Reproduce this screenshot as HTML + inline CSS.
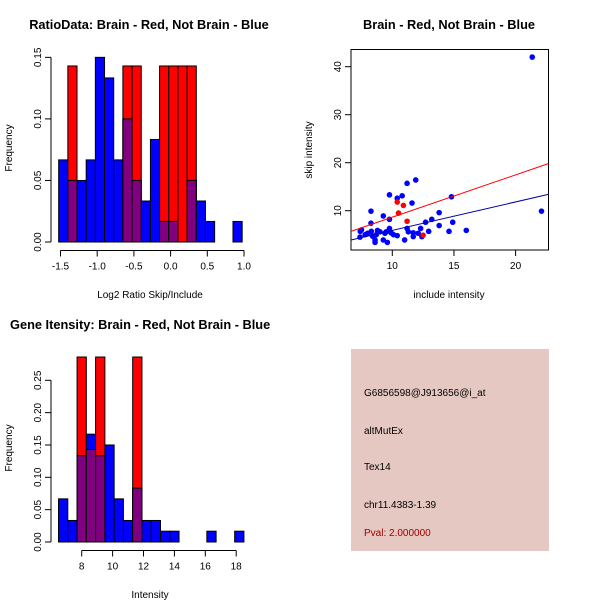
<!DOCTYPE html>
<html><head><meta charset="utf-8"><style>
body{margin:0;background:#fff}
svg{display:block;font-family:"Liberation Sans",sans-serif}
</style></head><body>
<svg id="c" width="600" height="600" xmlns="http://www.w3.org/2000/svg">
<rect width="600" height="600" fill="#fff"/>
<text x="149" y="29" font-size="12.8" font-weight="bold" text-anchor="middle">RatioData: Brain - Red, Not Brain - Blue</text>
<text x="449" y="29" font-size="12.8" font-weight="bold" text-anchor="middle">Brain - Red, Not Brain - Blue</text>
<text x="10" y="329" font-size="12.8" font-weight="bold">Gene Itensity: Brain - Red, Not Brain - Blue</text>
<text x="150" y="298" font-size="10" text-anchor="middle">Log2 Ratio Skip/Include</text>
<text x="449" y="298" font-size="10" text-anchor="middle">include intensity</text>
<text x="150" y="598" font-size="10" text-anchor="middle">Intensity</text>
<text transform="translate(12,148) rotate(-90)" font-size="10" text-anchor="middle">Frequency</text>
<text transform="translate(12,448) rotate(-90)" font-size="10" text-anchor="middle">Frequency</text>
<text transform="translate(312,150) rotate(-90)" font-size="10" text-anchor="middle">skip intensity</text>
<g>
<rect x="351" y="349" width="198" height="202" fill="#e6c8c2"/>
<text x="364" y="396" font-size="10">G6856598@J913656@i_at</text>
<text x="364" y="434" font-size="10">altMutEx</text>
<text x="364" y="470" font-size="10">Tex14</text>
<text x="364" y="508" font-size="10">chr11.4383-1.39</text>
<text x="364" y="536" font-size="10" fill="#a00000">Pval: 2.000000</text>
</g>
</svg>
<script>
// Ratio histogram data
const ratioBinStart = -1.525;
const ratioBinWidth = 0.125;
const ratioBlue = [0.0667,0.05,0.05,0.0667,0.15,0.1333,0.0667,0.1,0.05,0.0333,0.0833,0.0167,0.0167,0,0.05,0.0333,0.0167,0,0,0.0167];
const ratioRed = [0,0.143,0,0,0,0,0,0.143,0.143,0,0,0.143,0.143,0.143,0.143,0,0,0,0,0];
const ratioXTicks = [-1.5,-1.0,-0.5,0.0,0.5,1.0];
const ratioYTicks = [0.00,0.05,0.10,0.15];
// Intensity histogram data
const intBinStart = 6.5;
const intBinWidth = 0.6;
const intBlue = [0.0667,0.0333,0.1333,0.1667,0.1333,0.15,0.0667,0.0333,0.0833,0.0333,0.0333,0.0167,0.0167,0,0,0,0.0167,0,0,0.0167];
const intRed = [0,0,0.286,0.143,0.286,0,0,0,0.286,0,0,0,0,0,0,0,0,0,0,0];
const intXTicks = [8,10,12,14,16,18];
const intYTicks = [0.00,0.05,0.10,0.15,0.20,0.25];
// Scatter data
const blueX = [21.35,22.1,7.38,7.5,7.4,8.27,8.27,8.3,8.0,8.6,9.27,9.27,9.6,9.77,9.77,9.77,9.0,9.4,8.7,10.1,10.4,10.4,10.8,11.2,11.9,11.6,11.0,11.2,11.3,11.7,11.7,12.1,12.3,12.4,12.7,12.95,13.2,13.8,13.8,14.6,14.8,14.9,16.0,8.4,8.8,9.5,9.9,8.6,7.8];
const blueY = [42,9.9,4.5,6,5.7,9.9,7.4,5.7,5.3,3.4,8.9,3.9,3.4,13.3,8.2,6.3,5.6,5.3,5,5,4.8,12.6,13.1,15.7,16.4,11.6,3.9,6.3,5.6,5.4,4.6,5.3,6.3,4.6,7.6,5.7,8.2,9.6,6.9,5.7,12.9,7.6,5.9,4.7,5.9,5.6,5.4,3.9,5];
const redX = [10.4,10.9,10.5,11.2,12.5];
const redY = [11.8,11.1,9.5,7.8,4.9];
const lineEnds = [6.65,22.65];
const redLineY = [5.7,19.8];
const blueLineY = [3.9,13.4];
const scatXTicks = [10,15,20];
const scatYTicks = [10,20,30,40];

const NS='http://www.w3.org/2000/svg';
const svg=document.getElementById('c');
function el(tag,attrs,parent){const e=document.createElementNS(NS,tag);for(const k in attrs)e.setAttribute(k,attrs[k]);(parent||svg).appendChild(e);return e;}

function hist(opt){
  const g=el('g',{});
  
  
  const sx=v=>opt.px0+(v-opt.x0)*opt.kx;
  const sy=v=>opt.py0-v*opt.ky;
  for(let i=0;i<opt.blue.length;i++){
    const a=sx(opt.start+i*opt.w), b=sx(opt.start+(i+1)*opt.w);
    const r=opt.red[i], bl=opt.blue[i], m=Math.min(r,bl);
    if(r>0){const e=el('rect',{x:a,y:sy(r),width:b-a,height:sy(0)-sy(r),fill:'#ff0000',stroke:'#000','stroke-width':1},g);
      
      }
    if(bl>0){const e=el('rect',{x:a,y:sy(bl),width:b-a,height:sy(0)-sy(bl),fill:'#0000ff',stroke:'#000','stroke-width':1},g);
      
      }
    if(m>0){const e=el('rect',{x:a,y:sy(m),width:b-a,height:sy(0)-sy(m),fill:'#800080',stroke:'#000','stroke-width':1},g);
      
      }
  }
  const ax=el('g',{stroke:'#000','stroke-width':1},g);
  
  
  const xa=opt.xt[0], xb=opt.xt[opt.xt.length-1], ay=opt.axisY;
  el('line',{x1:sx(xa),x2:sx(xb),y1:ay,y2:ay},ax);
  opt.xt.forEach(t=>{el('line',{x1:sx(t),x2:sx(t),y1:ay,y2:ay+6},ax);
    const tx=el('text',{x:sx(t),y:ay+19,'font-size':10,'text-anchor':'middle',stroke:'none'},ax);tx.textContent=opt.xfmt(t);
    
    });
  const ayg=el('g',{stroke:'#000','stroke-width':1},g);
  
  
  const yt=opt.yt;
  el('line',{x1:opt.axisX,x2:opt.axisX,y1:sy(yt[0]),y2:sy(yt[yt.length-1])},ayg);
  yt.forEach(t=>{el('line',{x1:opt.axisX-6,x2:opt.axisX,y1:sy(t),y2:sy(t)},ayg);
    const tx=el('text',{transform:`translate(${opt.axisX-10},${sy(t)}) rotate(-90)`,'font-size':10,'text-anchor':'middle',stroke:'none'},ayg);tx.textContent=t.toFixed(2);
    
    });
}
hist({name:'ratio-histogram',blue:ratioBlue,red:ratioRed,start:ratioBinStart,w:ratioBinWidth,x0:-1.5,px0:60.5,kx:73.4,py0:242,ky:1231,xt:ratioXTicks,yt:ratioYTicks,axisY:250.5,axisX:51,xfmt:t=>t.toFixed(1)});
hist({name:'intensity-histogram',blue:intBlue,red:intRed,start:intBinStart,w:intBinWidth,x0:8,px0:81.7,kx:15.45,py0:542,ky:646.8,xt:intXTicks,yt:intYTicks,axisY:550.5,axisX:51,xfmt:t=>String(t)});

(function(){
  const g=el('g',{});
  
  
  const sx=v=>392.3+(v-10)*12.33;
  const sy=v=>210.7-(v-10)*4.8;
  el('rect',{x:351,y:49.5,width:197.5,height:200.5,fill:'none',stroke:'#000'},g);
  blueX.forEach((x,i)=>{const c=el('circle',{cx:sx(x),cy:sy(blueY[i]),r:2.8,fill:'#0000ff'},g);
    
    });
  redX.forEach((x,i)=>{const c=el('circle',{cx:sx(x),cy:sy(redY[i]),r:2.8,fill:'#ff0000'},g);
    
    });
  const rl=el('line',{x1:sx(lineEnds[0]),x2:sx(lineEnds[1]),y1:sy(redLineY[0]),y2:sy(redLineY[1]),stroke:'#ff0000'},g);
  
  
  const bl=el('line',{x1:sx(lineEnds[0]),x2:sx(lineEnds[1]),y1:sy(blueLineY[0]),y2:sy(blueLineY[1]),stroke:'#0000aa'},g);
  
  
  const ax=el('g',{stroke:'#000'},g);
  
  
  scatXTicks.forEach(t=>{el('line',{x1:sx(t),x2:sx(t),y1:250,y2:256},ax);
    const tx=el('text',{x:sx(t),y:269,'font-size':10,'text-anchor':'middle',stroke:'none'},ax);tx.textContent=t;
    
    });
  const ay=el('g',{stroke:'#000'},g);
  
  
  scatYTicks.forEach(t=>{el('line',{x1:345,x2:351,y1:sy(t),y2:sy(t)},ay);
    const tx=el('text',{transform:`translate(341,${sy(t)}) rotate(-90)`,'font-size':10,'text-anchor':'middle',stroke:'none'},ay);tx.textContent=t;
    
    });
})();
</script>
</body></html>
